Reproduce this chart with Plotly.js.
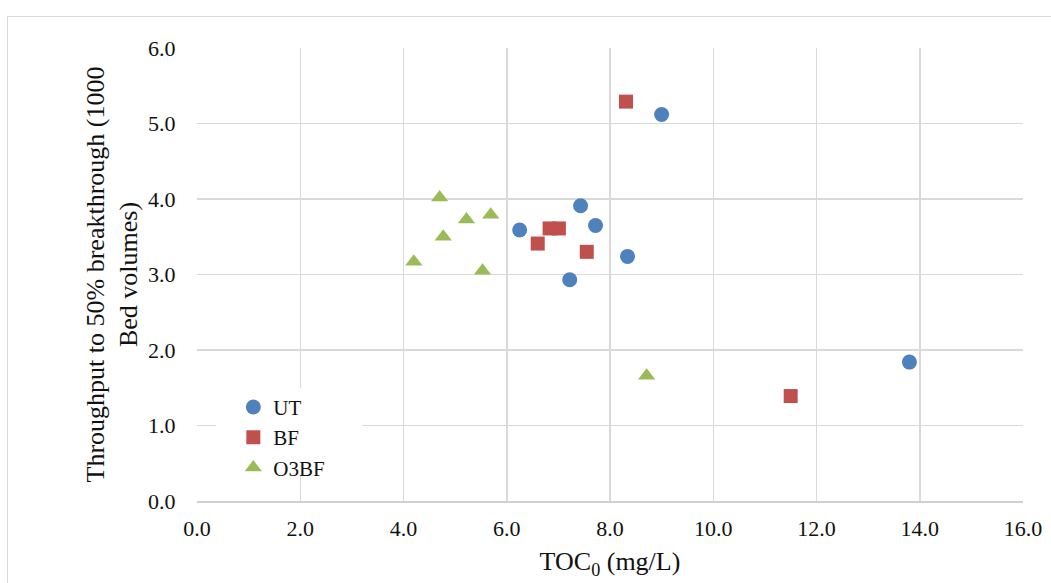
<!DOCTYPE html>
<html><head><meta charset="utf-8">
<script src="https://cdn.plot.ly/plotly-3.0.1.min.js"></script>
<style>html,body{margin:0;padding:0;background:#fff;}#wrap{position:relative;width:1051px;height:583px;overflow:hidden;}
#frame{position:absolute;left:7px;top:16px;width:1100px;height:700px;border:1px solid #d9d9d9;pointer-events:none;}</style>
</head><body><div id="wrap"><div id="chart" style="width:1051px;height:583px;"></div><div id="frame"></div></div>
<script>
const utX = [9.00, 7.43, 7.72, 6.25, 8.34, 7.22, 13.80];
const utY = [5.12, 3.91, 3.65, 3.59, 3.24, 2.93, 1.84];
const bfX = [8.31, 6.83, 7.01, 6.60, 7.55, 11.50];
const bfY = [5.29, 3.61, 3.61, 3.41, 3.30, 1.39];
const o3X = [4.70, 5.22, 5.69, 4.77, 4.20, 5.53, 8.71];
const o3Y = [4.02, 3.73, 3.79, 3.50, 3.17, 3.05, 1.66];
const seriesNames = ["UT", "BF", "O3BF"];
const font = "Liberation Serif, Times New Roman, serif";
const txt = "#111";
const traces = [
  {x: utX, y: utY, name: seriesNames[0], type: "scatter", mode: "markers",
   marker: {symbol: "circle", size: 15, color: "#4f81bd"}},
  {x: bfX, y: bfY, name: seriesNames[1], type: "scatter", mode: "markers",
   marker: {symbol: "square", size: 14, color: "#c0504d"}},
  {x: o3X, y: o3Y, name: seriesNames[2], type: "scatter", mode: "markers",
   marker: {symbol: "triangle-up", size: 15, color: "#9bbb59"}}
];
const layout = {
  width: 1051, height: 583,
  margin: {l: 197, r: 28, t: 48, b: 82},
  paper_bgcolor: "#fff", plot_bgcolor: "#fff",
  font: {family: font, size: 22, color: txt},
  showlegend: true,
  legend: {x: 0.044, y: 0.252, xanchor: "left", yanchor: "top", bgcolor: "rgba(0,0,0,0)",
           font: {family: font, size: 21, color: txt}, itemwidth: 30, tracegroupgap: 0},
  shapes: [{type: "rect", xref: "paper", yref: "paper", x0: 0.023, x1: 0.2, y0: 0.057, y1: 0.249,
            fillcolor: "#fff", line: {width: 0}, layer: "above"}],
  xaxis: {range: [0, 16], dtick: 2, tick0: 0, tickformat: ".1f",
          showgrid: true, gridcolor: "#d9d9d9", gridwidth: 1.5,
          zeroline: false, showline: true, linecolor: "#d0d0d0", linewidth: 1.5,
          ticks: "outside", ticklen: 7, tickcolor: "rgba(0,0,0,0)", fixedrange: true,
          tickfont: {family: font, size: 22, color: txt},
          title: {text: "TOC<sub>0</sub> (mg/L)", font: {family: font, size: 26, color: txt}, standoff: 12}},
  yaxis: {range: [0, 6], dtick: 1, tick0: 0, tickformat: ".1f",
          showgrid: true, gridcolor: "#d9d9d9", gridwidth: 1.5,
          zeroline: false, showline: false, ticks: "outside", ticklen: 16, tickcolor: "rgba(0,0,0,0)", fixedrange: true,
          tickfont: {family: font, size: 22, color: txt},
          title: {text: "Throughput to 50% breakthrough (1000<br>Bed volumes)", font: {family: font, size: 26, color: txt}, standoff: 2}}
};
Plotly.newPlot("chart", traces, layout, {displayModeBar: false, staticPlot: true});
</script></body></html>
